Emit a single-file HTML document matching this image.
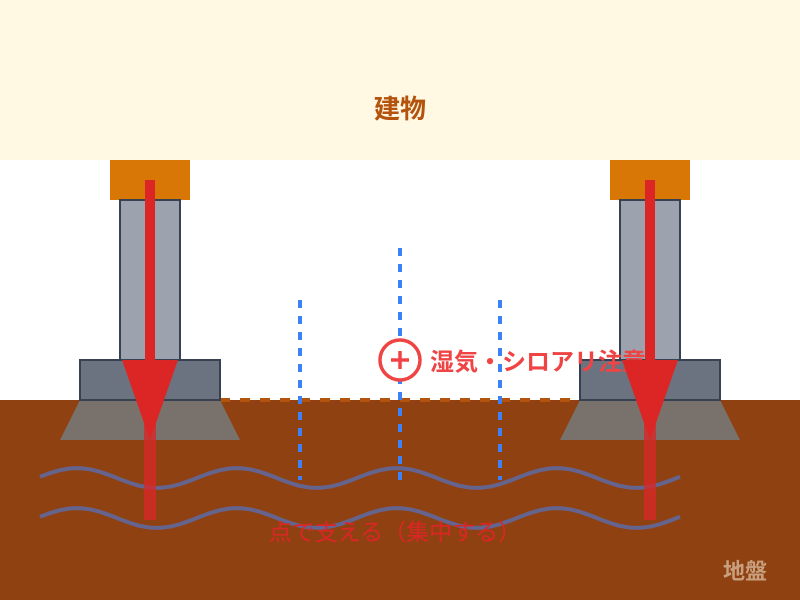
<!DOCTYPE html>
<html><head><meta charset="utf-8"><style>html,body{margin:0;padding:0;background:#fff}svg{display:block}</style></head>
<body>
<svg width="800" height="600" viewBox="0 0 800 600" xmlns="http://www.w3.org/2000/svg" font-family="'Liberation Sans','Noto Sans CJK JP',sans-serif">
<defs>
<polyline id="wave" points="40,476.8 50,473.1 60,470.2 70,468.4 80,468.1 90,469.3 100,471.8 110,475.3 120,479.2 130,482.9 140,485.9 150,487.6 160,487.9 170,486.7 180,484.2 190,480.7 200,476.8 210,473.1 220,470.2 230,468.4 240,468.1 250,469.3 260,471.8 270,475.3 280,479.2 290,482.9 300,485.9 310,487.6 320,487.9 330,486.7 340,484.2 350,480.7 360,476.8 370,473.1 380,470.2 390,468.4 400,468.1 410,469.3 420,471.8 430,475.3 440,479.2 450,482.9 460,485.9 470,487.6 480,487.9 490,486.7 500,484.2 510,480.7 520,476.8 530,473.1 540,470.2 550,468.4 560,468.1 570,469.3 580,471.8 590,475.3 600,479.2 610,482.9 620,485.9 630,487.6 640,487.9 650,486.7 660,484.2 670,480.7 680,476.8"/>
</defs>
<rect x="0" y="0" width="800" height="160" fill="#fff8e2"/>
<text x="400" y="118" text-anchor="middle" font-size="26" font-weight="bold" fill="#b4530d">建物</text>
<rect x="0" y="400" width="800" height="200" fill="#8f4111"/>
<line x1="220" y1="400" x2="580" y2="400" stroke="#b4530d" stroke-width="4" stroke-dasharray="10,10"/>
<g stroke="#3b82f6" stroke-width="4" stroke-dasharray="8,8">
<line x1="300" y1="300" x2="300" y2="480"/>
<line x1="400" y1="248" x2="400" y2="480"/>
<line x1="500" y1="300" x2="500" y2="480"/>
</g>
<g fill="none" stroke="#64648f" stroke-width="4" stroke-linejoin="round">
<use href="#wave"/>
<use href="#wave" transform="translate(0,40)"/>
</g>
<g id="pier">
<rect x="110" y="160" width="80" height="40" fill="#d97706"/>
<rect x="120" y="200" width="60" height="160" fill="#9ca3af" stroke="#374151" stroke-width="2"/>
<polygon points="80,400 220,400 240,440 60,440" fill="#78716c"/>
<rect x="80" y="360" width="140" height="40" fill="#6b7280" stroke="#374151" stroke-width="2"/>
</g>
<use href="#pier" transform="translate(500,0)"/>
<circle cx="400" cy="360" r="20" fill="#fff" stroke="#ef4444" stroke-width="3.5"/>
<path d="M400 351 V369 M391 360 H409" stroke="#ef4444" stroke-width="3.5"/>
<text x="430" y="370" font-size="24" font-weight="bold" fill="#ef4444">湿気・シロアリ注意</text>
<text x="395" y="540" text-anchor="middle" font-size="23" fill="#dc2626">点で支える（集中する）</text>
<text x="745" y="579" text-anchor="middle" font-size="22" font-weight="bold" fill="#c8a07e">地盤</text>
<g id="arrow">
<rect x="145" y="180" width="10" height="190" fill="#dc2626"/>
<polygon points="122,360 178,360 150,440" fill="#dc2626"/>
<rect x="144" y="400" width="12" height="120" fill="#dc2626" opacity="0.75"/>
</g>
<use href="#arrow" transform="translate(500,0)"/>
</svg>
</body></html>
